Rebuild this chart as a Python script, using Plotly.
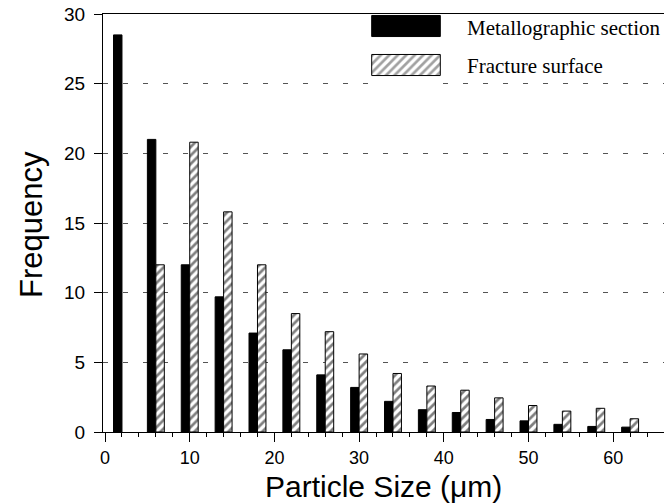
import plotly.graph_objects as go

# ---- data ----
size_groups = [2, 6, 10, 14, 18, 22, 26, 30, 34, 38, 42, 46, 50, 54, 58, 62]
metallographic = [28.5, 21.0, 12.0, 9.7, 7.1, 5.9, 4.1, 3.2, 2.2, 1.6, 1.4, 0.9, 0.8, 0.55, 0.4, 0.35]
fracture = [None, 12.0, 20.8, 15.8, 12.0, 8.5, 7.2, 5.6, 4.2, 3.3, 3.0, 2.45, 1.9, 1.5, 1.7, 0.95]
series_names = ["Metallographic section", "Fracture surface"]
x_ticks = [0, 10, 20, 30, 40, 50, 60]
y_ticks = [0, 5, 10, 15, 20, 25, 30]

W, H = 664, 503
L, R, T, B = 103, 0, 14, 71
pw, ph = W - L - R, H - T - B

def px_x(p):
    return (p - L) / pw

def px_y(p):
    return (H - B - p) / ph

hatch = dict(shape="/", fgcolor="black", bgcolor="white", size=6, solidity=0.45)

fig = go.Figure()

fig.add_trace(go.Bar(
    x=size_groups, y=metallographic, name=series_names[0],
    offset=-1, width=1,
    marker=dict(color="black", line=dict(color="black", width=1)),
    showlegend=False,
))
fig.add_trace(go.Bar(
    x=size_groups, y=fracture, name=series_names[1],
    offset=0, width=1,
    marker=dict(color="white", line=dict(color="black", width=1), pattern=hatch),
    showlegend=False,
))

# legend swatches drawn as a tiny bar chart on their own axes
fig.add_trace(go.Bar(
    x=[1, 1], y=[0, 1], orientation="h", base=0, width=0.54,
    xaxis="x2", yaxis="y2", showlegend=False, hoverinfo="skip",
    marker=dict(color=["white", "black"], line=dict(color="black", width=1),
                pattern=dict(shape=["/", ""], fgcolor="black", bgcolor="white",
                             size=6, solidity=0.45)),
))

tick_font = dict(family="Liberation Sans, Arial, sans-serif", size=19, color="black")

fig.update_layout(
    width=W, height=H,
    margin=dict(l=L, r=R, t=T, b=B, pad=0),
    paper_bgcolor="white", plot_bgcolor="white",
    barmode="overlay",
    xaxis=dict(
        range=[-0.24, 66], tickvals=x_ticks, ticks="outside", ticklen=9,
        tickcolor="black", tickwidth=1,
        showline=True, linecolor="black", linewidth=1, mirror=True,
        showgrid=False, zeroline=False,
        tickfont=dict(family="Liberation Sans, Arial, sans-serif", size=18, color="black"),
        ticklabelstandoff=0,
        minor=dict(dtick=2, tick0=0, ticks="outside", ticklen=4,
                   tickcolor="black", showgrid=False),
    ),
    yaxis=dict(
        range=[0, 30], tickvals=y_ticks, ticks="outside", ticklen=8,
        tickcolor="black", tickwidth=1,
        showline=True, linecolor="black", linewidth=1,
        showgrid=True, gridcolor="#555555", gridwidth=1, griddash="5px,15px",
        zeroline=False, tickfont=tick_font, ticklabelstandoff=5,
    ),
    xaxis2=dict(domain=[px_x(371), px_x(441)], range=[-0.01, 1.01],
                visible=False, anchor="y2", fixedrange=True),
    yaxis2=dict(domain=[px_y(84), px_y(14)], range=[-0.487, 1.308],
                visible=False, anchor="x2", fixedrange=True),
    annotations=[
        dict(text="Particle Size (μm)", xref="paper", yref="paper",
             x=px_x(383), y=px_y(486), xanchor="center", yanchor="middle",
             showarrow=False,
             font=dict(family="Liberation Sans, Arial, sans-serif", size=30, color="black")),
        dict(text="Frequency", xref="paper", yref="paper", textangle=-90,
             x=px_x(31), y=px_y(224), xanchor="center", yanchor="middle",
             showarrow=False,
             font=dict(family="Liberation Sans, Arial, sans-serif", size=31, color="black")),
        dict(text=series_names[0], xref="paper", yref="paper",
             x=px_x(465), y=px_y(28), xanchor="left", yanchor="middle",
             showarrow=False,
             font=dict(family="Liberation Serif, Times New Roman, serif", size=21, color="black")),
        dict(text=series_names[1], xref="paper", yref="paper",
             x=px_x(465), y=px_y(66), xanchor="left", yanchor="middle",
             showarrow=False,
             font=dict(family="Liberation Serif, Times New Roman, serif", size=21, color="black")),
    ],
)

fig.write_html("out.html")
